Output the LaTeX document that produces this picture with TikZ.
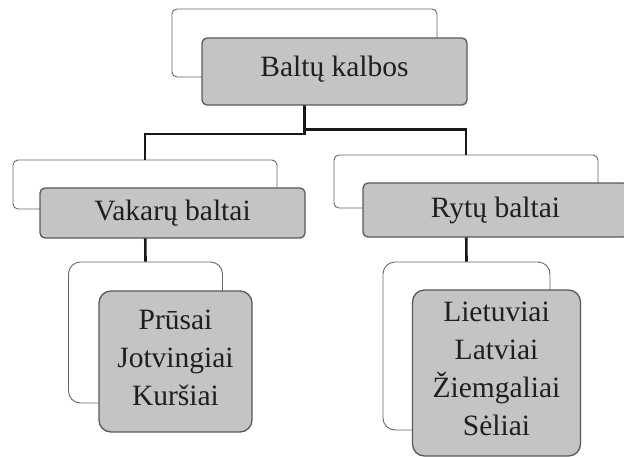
\documentclass[tikz,border=0pt]{standalone}
\usepackage{fontspec}
\setmainfont{Liberation Serif}
\begin{document}
\begin{tikzpicture}[x=1pt,y=-1pt,
  backbox/.style={draw=black!60, line width=0.9pt, fill=white, rounded corners=5pt, inner sep=0pt},
  frontbox/.style={draw=black!65, line width=1.3pt, fill=black!23, rounded corners=5pt, inner sep=0pt,
    text=black!88, font=\fontsize{29.5}{38}\selectfont, align=center},
  textonly/.style={inner sep=0pt, text=black!88, font=\fontsize{29.5}{38}\selectfont, align=center},
  conn/.style={draw=black!90, line width=2.6pt},
  big/.style={rounded corners=12pt}]
\useasboundingbox (0,0) rectangle (624,456);
% back boxes
\node[backbox, minimum width=265pt, minimum height=68pt] (tb) at (304.5,43) {};
\node[backbox, minimum width=264pt, minimum height=49pt] (lb) at (145,184.5) {};
\node[backbox, minimum width=264pt, minimum height=53pt] (rb) at (466,181.5) {};
\node[backbox, big, minimum width=154pt, minimum height=141pt] (lbb) at (145.5,332.5) {};
\node[backbox, big, minimum width=167pt, minimum height=168pt] (rbb) at (466.5,346) {};
% connectors
\draw[conn] (tb.south) -- ++(0,56.5) -| (lb.north);
\draw[conn] (tb.south) -- ++(0,52) -| (rb.north);
\draw[conn] (lb.south) -- (lbb.north);
\draw[conn] (rb.south) -- (rbb.north);
% front boxes
\node[frontbox, minimum width=265pt, minimum height=67pt] (tf) at (334.5,71.5) {};
\node[textonly] (tft) at ([yshift=2pt]tf.center) {Baltų kalbos};
\node[frontbox, minimum width=265pt, minimum height=50pt] (lf) at (172.5,213) {Vakarų baltai};
\node[frontbox, minimum width=265pt, minimum height=54pt] (rf) at (495.5,210) {Rytų baltai};
\node[frontbox, big, minimum width=153pt, minimum height=141pt] (lbf) at (175.5,361.5) {};
\node[textonly] (lbft) at ([yshift=4pt]lbf.center) {Prūsai\\Jotvingiai\\Kuršiai};
\node[frontbox, big, minimum width=168pt, minimum height=166pt] (rbf) at (496.5,373) {};
\node[textonly] (rbft) at ([yshift=4pt]rbf.center) {Lietuviai\\Latviai\\Žiemgaliai\\Sėliai};
\end{tikzpicture}
\end{document}
